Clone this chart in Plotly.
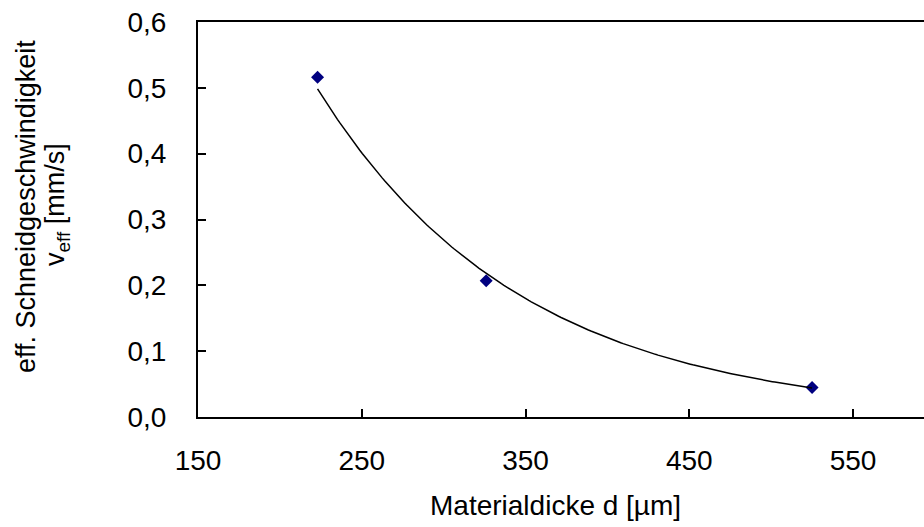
import numpy as np
import plotly.graph_objects as go

# Measured cutting speed versus material thickness
thickness_um = [223, 326, 525]
speed_mm_s = [0.516, 0.207, 0.045]

x_ticks = [150, 250, 350, 450, 550]
y_ticks = [0.0, 0.1, 0.2, 0.3, 0.4, 0.5, 0.6]

# Exponential trend line y = a * exp(b * x), fitted on ln(y)
b, ln_a = np.polyfit(thickness_um, np.log(speed_mm_s), 1)
x_fit = np.linspace(min(thickness_um), max(thickness_um), 200)
y_fit = np.exp(ln_a) * np.exp(b * x_fit)

FONT = "Liberation Sans, Arial, sans-serif"
FS = 28      # horizontal texts
FS_V = 27    # rotated axis title

fig = go.Figure()
fig.add_trace(go.Scatter(
    x=thickness_um, y=speed_mm_s, mode="markers",
    marker=dict(symbol="diamond", size=10, color="#000080"),
    showlegend=False, hoverinfo="x+y",
))
fig.add_trace(go.Scatter(
    x=x_fit, y=y_fit, mode="lines",
    line=dict(color="black", width=1.5),
    showlegend=False, hoverinfo="skip",
))

W, H = 924, 527
L, T, B, R = 198, 22, 110, 0
PW, PH = W - L - R, H - T - B
px_per_unit = (852.7 - 197.7) / 400.0
x_max = 150 + PW / px_per_unit


def px_x(px):
    return (px - L) / PW


def px_y(py):
    return 1 - (py - T) / PH


fig.update_layout(
    width=W, height=H,
    margin=dict(l=L, r=R, t=T, b=B),
    paper_bgcolor="white", plot_bgcolor="white",
    separators=",.",
    font=dict(family=FONT, size=FS, color="black"),
    xaxis=dict(
        range=[150, x_max], tickvals=x_ticks, ticktext=[str(v) for v in x_ticks],
        showgrid=False, zeroline=False,
        showline=True, linecolor="black", linewidth=2, mirror=True,
        ticks="inside", ticklen=8, tickwidth=2, tickcolor="black",
        ticklabelstandoff=17,
        tickfont=dict(family=FONT, size=FS, color="black"),
    ),
    yaxis=dict(
        range=[0, 0.6], tickvals=y_ticks, tickformat=".1f",
        showgrid=False, zeroline=False,
        showline=True, linecolor="black", linewidth=2, mirror=False,
        ticks="inside", ticklen=8, tickwidth=2, tickcolor="black",
        ticklabelstandoff=24,
        tickfont=dict(family=FONT, size=FS, color="black"),
    ),
    annotations=[
        dict(text="Materialdicke d [µm]", xref="paper", yref="paper",
             x=px_x(555), y=px_y(505),
             xanchor="center", yanchor="middle", showarrow=False,
             font=dict(family=FONT, size=FS, color="black")),
        dict(text="eff. Schneidgeschwindigkeit",
             xref="paper", yref="paper",
             x=px_x(26), y=px_y(207),
             xanchor="center", yanchor="middle", textangle=-90,
             showarrow=False,
             font=dict(family=FONT, size=FS_V, color="black")),
        dict(text="v<sub>eff</sub> [mm/s]",
             xref="paper", yref="paper",
             x=px_x(57), y=px_y(205),
             xanchor="center", yanchor="middle", textangle=-90,
             showarrow=False,
             font=dict(family=FONT, size=FS_V, color="black")),
    ],
)

fig.write_html("out.html")
